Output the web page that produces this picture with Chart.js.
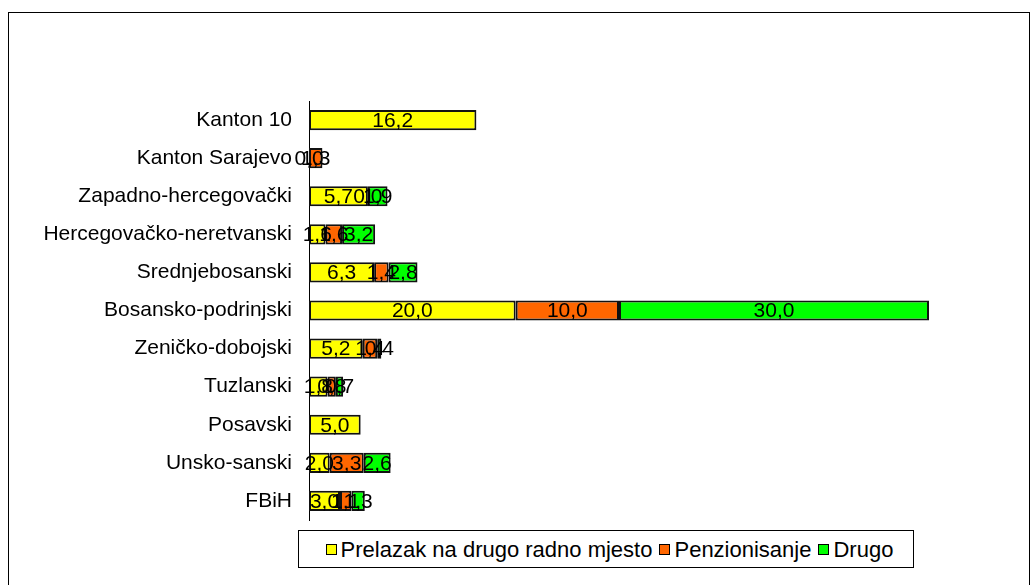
<!DOCTYPE html>
<html>
<head>
<meta charset="utf-8">
<script src="https://cdn.jsdelivr.net/npm/chart.js@4/dist/chart.umd.min.js"></script>
<style>
  body { margin: 0; background: #fff; }
  #wrap { position: relative; width: 1036px; height: 585px; }
  #frame { position: absolute; left: 8px; top: 12px; width: 1020px; height: 600px;
           border: 1px solid #000; border-bottom: none; }
  #legend { position: absolute; left: 298px; top: 530px; width: 616px; height: 38px;
            border: 1px solid #000; background: #fff; display: flex; align-items: center;
            justify-content: center; font-family: "Liberation Sans", Arial, sans-serif;
            font-size: 22px; color: #000; box-sizing: border-box; padding-top: 1px; }
  #legend span.box { display: inline-block; width: 9px; height: 9px; border: 1px solid #000;
                     margin: 0 4px 0 7px; }
</style>
</head>
<body>
<div id="wrap">
  <div id="frame"></div>
  <canvas id="grafica" width="1036" height="585"></canvas>
  <div id="legend"></div>
</div>
<script>
// kantoni, odozgo prema dole
const kategorije = ["Kanton 10", "Kanton Sarajevo", "Zapadno-hercegovački", "Hercegovačko-neretvanski",
  "Srednjebosanski", "Bosansko-podrinjski", "Zeničko-dobojski", "Tuzlanski", "Posavski",
  "Unsko-sanski", "FBiH"];
const prelazak = [16.2, 0.0, 5.7, 1.6, 6.3, 20.0, 5.2, 1.8, 5.0, 2.0, 3.0];
const penzionisanje = [null, 1.3, 0.0, 1.6, 1.4, 10.0, 1.4, 0.8, null, 3.3, 1.1];
const drugo = [null, null, 1.9, 3.2, 2.8, 30.0, 0.4, 0.7, null, 2.6, 1.3];

const nazivi = ["Prelazak na drugo radno mjesto", "Penzionisanje", "Drugo"];
const boje = ["#FFFF00", "#FF6600", "#00FF00"];

const font = "Liberation Sans";

// vrijednosti u sredini segmenta
const oznake = {
  id: 'oznake',
  afterDatasetsDraw(chart) {
    const ctx = chart.ctx;
    ctx.save();
    ctx.font = "21px '" + font + "'";
    ctx.fillStyle = "#000";
    ctx.textAlign = "center";
    ctx.textBaseline = "middle";
    chart.data.datasets.forEach((ds, i) => {
      chart.getDatasetMeta(i).data.forEach((bar, j) => {
        const v = ds.data[j];
        if (v === null) return;
        const x = (bar.x + bar.base) / 2;
        ctx.fillText(v.toFixed(1).replace(".", ","), x, bar.y + 1);
      });
    });
    ctx.restore();
  }
};

const skupovi = [prelazak, penzionisanje, drugo].map((d, i) => ({
  label: nazivi[i],
  data: d,
  backgroundColor: boje[i],
  borderColor: "#111",
  borderWidth: 2,
  borderSkipped: false,
  categoryPercentage: 0.53,
  barPercentage: 1.0
}));

const grafica = document.getElementById("grafica");
new Chart(grafica, {
  type: 'bar',
  data: { labels: kategorije, datasets: skupovi },
  options: {
    indexAxis: 'y',
    responsive: false,
    animation: false,
    layout: { padding: { top: 101, right: 107, bottom: 65, left: 0 } },
    plugins: { legend: { display: false }, tooltip: { enabled: false } },
    scales: {
      x: { stacked: true, min: 0, max: 60, display: false },
      y: {
        stacked: true,
        afterFit: (s) => { s.width = 309; },
        grid: { display: false, drawTicks: false },
        border: { display: true, color: "#000", width: 1 },
        ticks: { color: "#000", padding: 17, font: { family: font, size: 21 } }
      }
    }
  },
  plugins: [oznake]
});

// legenda ispod
const leg = document.getElementById("legend");
nazivi.forEach((n, i) => {
  const b = document.createElement("span");
  b.className = "box";
  b.style.background = boje[i];
  leg.appendChild(b);
  leg.appendChild(document.createTextNode(n));
});
</script>
</body>
</html>
